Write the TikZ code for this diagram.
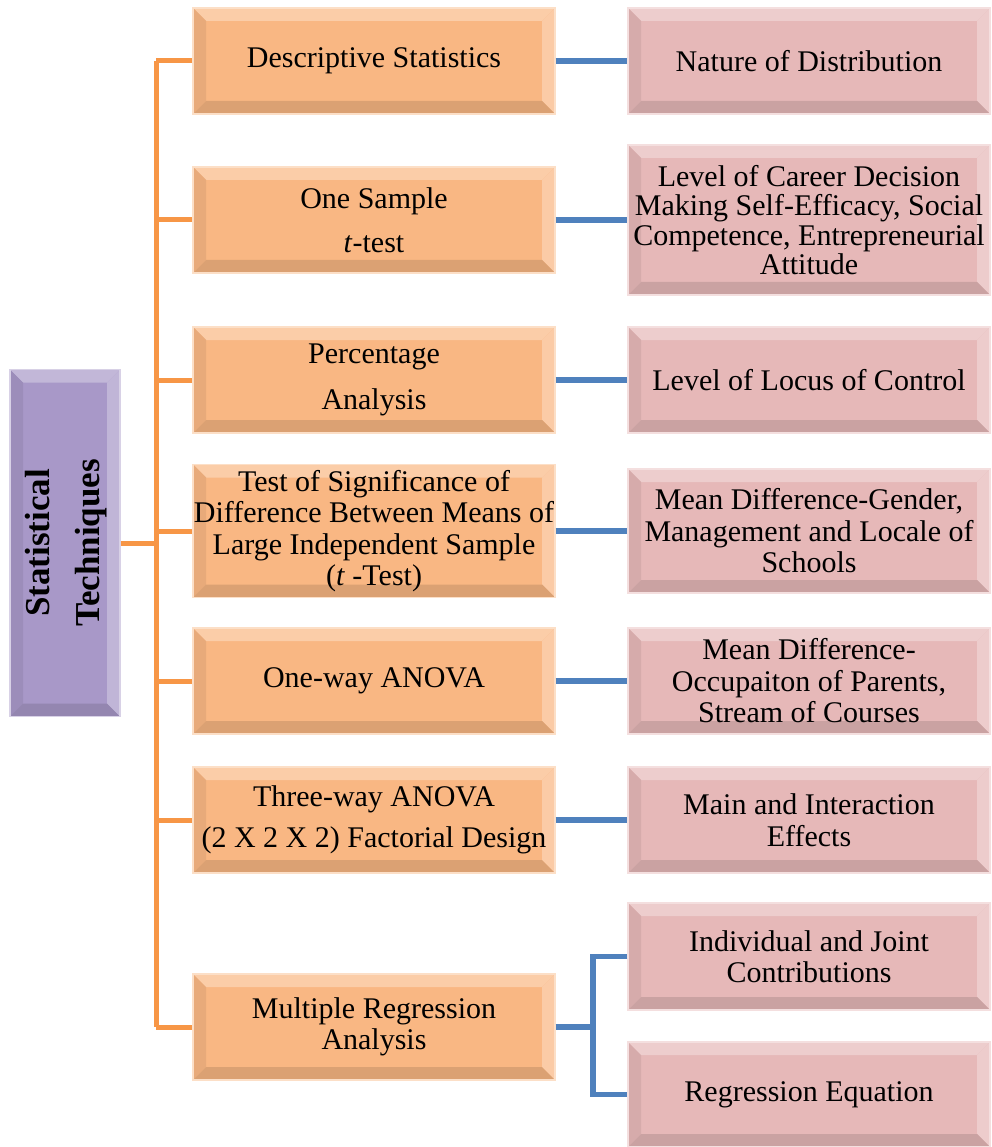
\documentclass[tikz,border=0pt]{standalone}
\usepackage{fontspec}
\setmainfont{Liberation Serif}
\definecolor{orangefill}{HTML}{F9B783}
\definecolor{pinkfill}{HTML}{E6B8B8}
\definecolor{purplefill}{HTML}{A898C8}
\definecolor{orangeline}{HTML}{F79646}
\definecolor{blueline}{HTML}{4F81BD}
\tikzset{
  bevelbox/.style={
    fill=#1, draw=#1!45!white, line width=1.2pt, inner sep=0pt, align=center,
    font=\fontsize{30}{31.5}\selectfont,
    path picture={
      \coordinate (bnw) at (path picture bounding box.north west);
      \coordinate (bne) at (path picture bounding box.north east);
      \coordinate (bsw) at (path picture bounding box.south west);
      \coordinate (bse) at (path picture bounding box.south east);
      \fill[#1!70!white] (bnw) -- (bne) -- ([xshift=-13pt,yshift=-13pt]bne) -- ([xshift=13pt,yshift=-13pt]bnw) -- cycle;
      \fill[#1!72!white] (bne) -- (bse) -- ([xshift=-13pt,yshift=13pt]bse) -- ([xshift=-13pt,yshift=-13pt]bne) -- cycle;
      \fill[#1!93!black] (bnw) -- (bsw) -- ([xshift=13pt,yshift=13pt]bsw) -- ([xshift=13pt,yshift=-13pt]bnw) -- cycle;
      \fill[#1!88!black] (bsw) -- (bse) -- ([xshift=-13pt,yshift=13pt]bse) -- ([xshift=13pt,yshift=13pt]bsw) -- cycle;
    }},
  obox/.style={bevelbox=orangefill, minimum width=362pt, minimum height=#1},
  obox/.default=106pt,
  pbox/.style={bevelbox=pinkfill, minimum width=362pt, minimum height=#1},
  pbox/.default=106pt,
  oline/.style={draw=orangeline, line width=5pt},
  bline/.style={draw=blueline, line width=5.5pt},
}
\begin{document}
\begin{tikzpicture}[x=1pt,y=-1pt]
\useasboundingbox (0,0) rectangle (991,1147);

% root
\node[bevelbox=purplefill, minimum width=110pt, minimum height=347pt] (st) at (65,543) {};
\node[rotate=90, align=center, font=\fontsize{35}{50}\selectfont\bfseries] (stl) at ([xshift=1pt]st.center) {Statistical\\Techniques};

% techniques
\node[obox] (o1) at (374,61) {Descriptive Statistics};
\node[obox] (o2) at (374,220) {One Sample\\[13pt]\textit{t}-test};
\node[obox] (o3) at (374,380) {Percentage\\[14pt]Analysis};
\node[obox=133pt] (o4) at (374,531) {Test of Significance of\\Difference Between Means of\\Large Independent Sample\\(\textit{t} -Test)};
\node[obox] (o5) at (374,681) {One-way ANOVA};
\node[obox] (o6) at (374,820) {Three-way ANOVA\\[9pt](2 X 2 X 2) Factorial Design};
\node[obox] (o7) at (374,1027) {Multiple Regression\\Analysis};

% purposes
\node[pbox] (p1) at (809,61) {Nature of Distribution};
\node[pbox=150pt] (p2) at (809,220) {Level of Career Decision\\[-2pt]Making Self-Efficacy, Social\\[-2pt]Competence, Entrepreneurial\\[-2pt]Attitude};
\node[pbox] (p3) at (809,380) {Level of Locus of Control};
\node[pbox=124pt] (p4) at (809,531) {Mean Difference-Gender,\\Management and Locale of\\Schools};
\node[pbox] (p5) at (809,681) {Mean Difference-\\Occupaiton of Parents,\\Stream of Courses};
\node[pbox] (p6) at (809,820) {Main and Interaction\\Effects};
\node[pbox=107pt] (p7a) at (809,956.5) {Individual and Joint\\Contributions};
\node[pbox=105pt] (p7b) at (809,1094.5) {Regression Equation};

% orange trunk
\coordinate (tk) at (156,0);
\draw[oline] (o1.west -| tk) -- (o7.west -| tk);
\draw[oline] (st.east) -- (st.east -| tk);
\foreach \n in {o1,o2,o3,o4,o5,o6,o7}
  \draw[oline] (\n.west -| tk) -- (\n.west);

% blue links
\foreach \a/\b in {o1/p1,o2/p2,o3/p3,o4/p4,o5/p5,o6/p6}
  \draw[bline] (\a.east) -- (\b.west);
\coordinate (bk) at (593,0);
\draw[bline] (o7.east) -- (o7.east -| bk);
\draw[bline] (p7a.west) -- (p7a.west -| bk) -- (p7b.west -| bk) -- (p7b.west);
\end{tikzpicture}
\end{document}
